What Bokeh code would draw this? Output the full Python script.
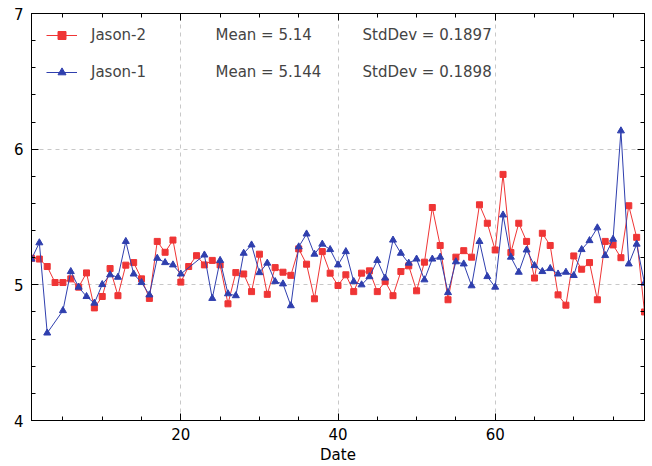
from bokeh.plotting import figure
from bokeh.models import LinearAxis, FixedTicker, Range1d, Legend, LegendItem, Label
from bokeh.embed import file_html
from bokeh.resources import INLINE

# ---- data ----
series_names = ["Jason-2", "Jason-1"]
mean_texts = ["Mean = 5.14", "Mean = 5.144"]
std_texts = ["StdDev = 0.1897", "StdDev = 0.1898"]
x_title = "Date"

dates_j2 = list(range(1, 80))
jason2 = [5.196, 5.19, 5.135, 5.017, 5.017, 5.044, 4.983, 5.088, 4.83, 4.914,
          5.12, 4.92, 5.145, 5.164, 5.044, 4.90, 5.32, 5.24, 5.33, 5.02,
          5.135, 5.215, 5.147, 5.18, 5.147, 4.86, 5.09, 5.08, 4.95, 5.226,
          4.93, 5.127, 5.093, 5.07, 5.265, 5.152, 4.897, 5.245, 5.086, 4.995,
          5.074, 4.95, 5.086, 5.103, 4.95, 5.024, 4.92, 5.098, 5.14, 4.956,
          5.167, 5.57, 5.29, 4.89, 5.204, 5.252, 5.204, 5.59, 5.454, 5.257,
          5.814, 5.238, 5.454, 5.32, 5.05, 5.38, 5.29, 4.926, 4.85, 5.213,
          5.115, 5.164, 4.89, 5.32, 5.294, 5.2, 5.583, 5.35, 4.80]

dates_j1 = [1, 2, 3, 5, 6, 7, 8, 9, 10, 11, 12, 13, 14, 15, 16, 17, 18, 19, 20,
            23, 24, 25, 26, 27, 28, 29, 30, 31, 32, 33, 34, 35, 36, 37, 38, 39, 40,
            41, 42, 43, 44, 45, 46, 47, 48, 49, 50, 51, 52, 53, 54, 55, 56, 57, 58,
            59, 60, 61, 62, 63, 64, 65, 66, 67, 68, 69, 70, 71, 72, 73, 74, 75, 76,
            77, 78, 79]
jason1 = [5.19, 5.31, 4.645, 4.81, 5.098, 4.983, 4.914, 4.865, 5.002, 5.074,
          5.056, 5.32, 5.08, 5.017, 4.926, 5.196, 5.164, 5.147, 5.08,
          5.22, 4.90, 5.18, 4.934, 4.92, 5.233, 5.294, 5.09, 5.16, 5.024,
          5.007, 4.846, 5.28, 5.375, 5.226, 5.30, 5.26, 5.147,
          5.245, 5.024, 5.0, 5.06, 5.18, 5.05, 5.33, 5.233, 5.16, 5.19,
          5.037, 5.19, 5.204, 4.943, 5.17, 5.154, 4.993, 5.32, 5.061, 4.983,
          5.515, 5.204, 5.093, 5.257, 5.142, 5.098, 5.12, 5.08, 5.093, 5.069,
          5.26, 5.326, 5.42, 5.216, 5.336, 6.135, 5.154, 5.30, 5.012]

x_major = [20, 40, 60]
x_minor = list(range(5, 80, 5))
y_major = [4, 5, 6, 7]
y_minor = [round(4 + 0.2 * i, 1) for i in range(16)]

RED = "#ef3535"
BLUE = "#2f3fae"
FONT = "DejaVu Sans"

p = figure(width=652, height=466, x_range=Range1d(1, 79), y_range=Range1d(4, 7),
           output_backend="svg", toolbar_location=None, x_axis_label=x_title,
           min_border_left=31, min_border_right=8, min_border_top=13, min_border_bottom=45)
p.outline_line_color = "black"
p.outline_line_width = 1
p.background_fill_color = "white"
p.border_fill_color = "white"

# grid
p.xgrid.ticker = FixedTicker(ticks=x_major)
p.ygrid.ticker = FixedTicker(ticks=[5, 6])
for g in (p.xgrid, p.ygrid):
    g.grid_line_color = "#c8c8c8"
    g.grid_line_dash = "4 4"
    g.grid_line_width = 1

def style_axis(ax, labels=True, ticks=()):
    ax.axis_line_color = "black"
    ax.major_tick_line_color = "black"
    ax.minor_tick_line_color = "black"
    ax.major_tick_in = 7
    ax.major_tick_out = 0
    ax.minor_tick_in = 4
    ax.minor_tick_out = 0
    if labels:
        ax.major_label_text_font = FONT
        ax.major_label_text_font_size = "15px"
        ax.major_label_text_color = "black"
    else:
        ax.major_label_overrides = {t: "" for t in ticks}
        ax.major_label_text_font_size = "1px"
        ax.major_label_standoff = 0

p.xaxis.ticker = FixedTicker(ticks=x_major, minor_ticks=x_minor)
p.yaxis.ticker = FixedTicker(ticks=y_major, minor_ticks=y_minor)
style_axis(p.xaxis[0])
style_axis(p.yaxis[0])
p.xaxis.major_label_standoff = 7
p.yaxis.major_label_standoff = 8
p.xaxis.axis_label_text_font = FONT
p.xaxis.axis_label_text_font_size = "15px"
p.xaxis.axis_label_text_font_style = "normal"
p.xaxis.axis_label_text_color = "black"
p.xaxis.axis_label_standoff = 3

top = LinearAxis(ticker=FixedTicker(ticks=x_major, minor_ticks=x_minor))
right = LinearAxis(ticker=FixedTicker(ticks=y_major, minor_ticks=y_minor))
style_axis(top, labels=False, ticks=x_major)
style_axis(right, labels=False, ticks=y_major)
p.add_layout(top, "above")
p.add_layout(right, "right")

# series
l2 = p.line(dates_j2, jason2, line_color=RED, line_width=1)
s2 = p.scatter(dates_j2, jason2, marker="square", size=6, fill_color=RED, line_color=RED)
l1 = p.line(dates_j1, jason1, line_color=BLUE, line_width=1)
s1 = p.scatter(dates_j1, jason1, marker="triangle", size=7, fill_color=BLUE, line_color=BLUE)

legend = Legend(items=[LegendItem(label=series_names[0], renderers=[l2, s2]),
                       LegendItem(label=series_names[1], renderers=[l1, s1])],
                location=(15, 338), glyph_width=31, glyph_height=20, label_height=20,
                label_standoff=14, spacing=17, padding=0, margin=0,
                border_line_alpha=0, background_fill_alpha=0,
                label_text_font=FONT, label_text_font_size="15px")
p.add_layout(legend)

rows_y = [6.84, 6.572]
for i in range(2):
    p.add_layout(Label(x=24.41, y=rows_y[i], text=mean_texts[i], text_font=FONT,
                       text_font_size="15px", text_baseline="middle"))
    p.add_layout(Label(x=43.12, y=rows_y[i], text=std_texts[i], text_font=FONT,
                       text_font_size="15px", text_baseline="middle"))

open("out.html", "w").write(file_html(p, INLINE))
